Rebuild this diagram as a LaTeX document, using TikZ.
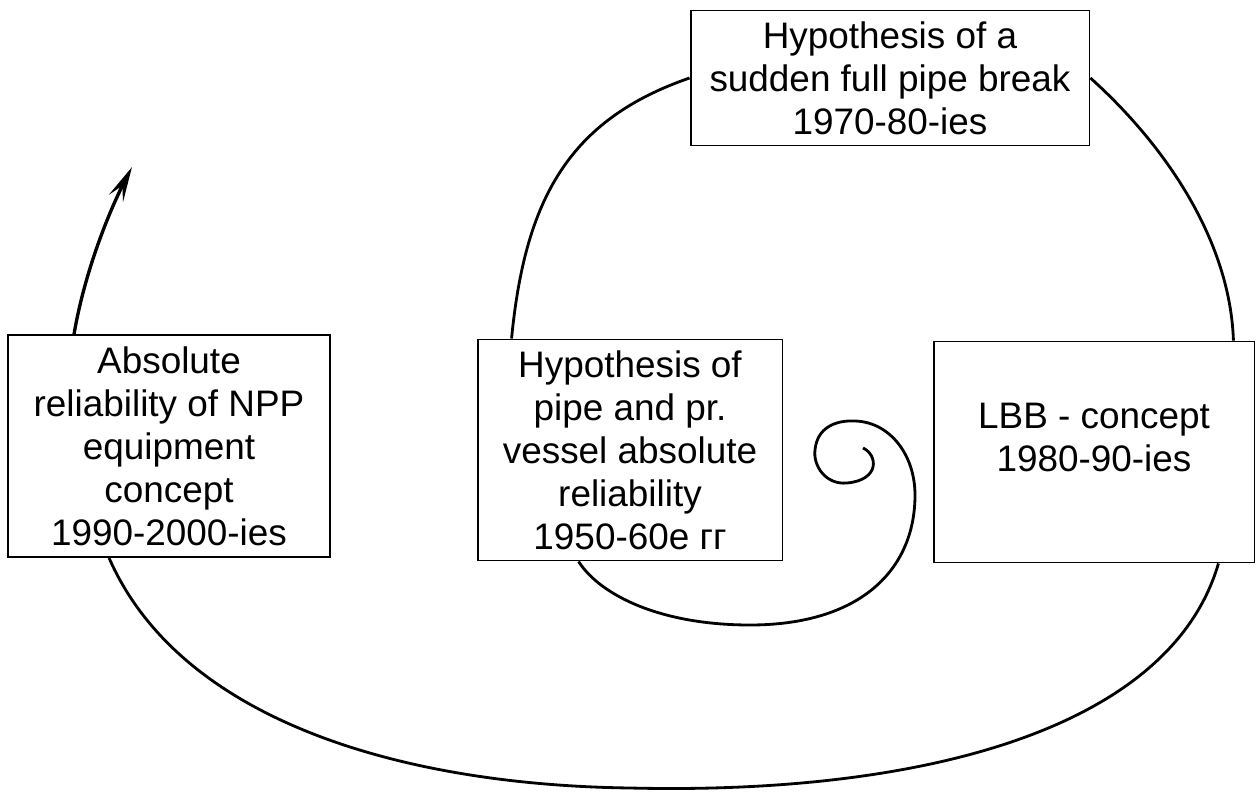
\documentclass[tikz,border=0pt]{standalone}
\usepackage{fontspec}
\setmainfont{Liberation Sans}
\usetikzlibrary{arrows.meta}

\begin{document}
\begin{tikzpicture}[x=0.02cm,y=-0.02cm,>={Stealth[length=20pt,width=9pt,inset=8pt]},
  stage/.style={draw,line width=1.1pt,inner sep=0pt,align=center,
    font=\fontsize{21}{24.5}\selectfont},
  link/.style={line width=1.6pt}]
\useasboundingbox (0,0) rectangle (1258,794);

% the four stages
\node[stage,minimum width=7.98cm,minimum height=2.7cm] (top) at (890,78)
  {Hypothesis of a\\sudden full pipe break\\1970-80-ies};
\node[stage,minimum width=6.44cm,minimum height=4.44cm] (left) at (169,446)
  {Absolute\\reliability of NPP\\equipment\\concept\\1990-2000-ies};
\node[stage,minimum width=6.1cm,minimum height=4.42cm] (mid) at (630,450)
  {Hypothesis of\\pipe and pr.\\vessel absolute\\reliability\\1950-60e гг};
\node[stage,minimum width=6.42cm,minimum height=4.42cm,text depth=17pt] (lbb) at (1094,452)
  {LBB - concept\\1980-90-ies};
\coordinate (tip) at (132,167);

% spiral out of the centre
\draw[link] (863,448) .. controls (878,455) and (880,480) .. (847,483)
  .. controls (825,485) and (813,465) .. (815,450)
  .. controls (817,428) and (835,420) .. (855,421)
  .. controls (890,422) and (915,455) .. (915,495)
  .. controls (915,570) and (860,625) .. (750,625)
  .. controls (660,625) and (600,595) .. ([xshift=2.04cm]mid.south west);
\draw[link] ([xshift=0.7cm]mid.north west) .. controls (525,200) and (568,120) .. (top.west);
\draw[link] (top.east) .. controls (1165,145) and (1230,240) .. ([xshift=-0.44cm]lbb.north east);
\draw[link] ([xshift=-0.74cm]lbb.south east) .. controls (1170,730) and (920,795) .. (630,788)
  .. controls (400,785) and (180,720) .. ([xshift=2.04cm]left.south west);
\draw[link,line width=1.9pt,->] ([xshift=1.34cm]left.north west) .. controls (85,270) and (110,210) .. (tip);
\end{tikzpicture}
\end{document}
